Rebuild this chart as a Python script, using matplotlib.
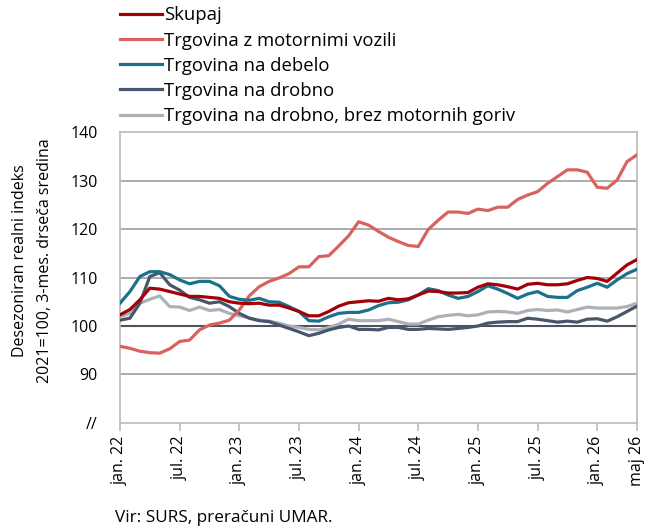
import matplotlib
matplotlib.use("Agg")
import matplotlib.pyplot as plt
import numpy as np

plt.rcParams['font.family'] = ['Open Sans', 'DejaVu Sans']

# mesečni podatki, jan. 2022 - maj 2026
skupaj = [102.3, 103.4, 105.4, 107.8, 107.6, 107.1, 106.6, 106.1, 106.1, 105.9,
          105.7, 105.0, 104.7, 104.6, 104.7, 104.3, 104.3, 103.7, 103.0, 102.1,
          102.1, 103.0, 104.1, 104.8, 105.0, 105.2, 105.1, 105.7, 105.4, 105.6,
          106.4, 107.2, 107.1, 106.8, 106.8, 106.9, 108.0, 108.7, 108.5, 108.1,
          107.6, 108.6, 108.8, 108.5, 108.5, 108.7, 109.4, 110.0, 109.8, 109.2,
          110.9, 112.6, 113.7]
motorna = [95.8, 95.4, 94.8, 94.5, 94.4, 95.3, 96.8, 97.1, 99.2, 100.2,
           100.6, 101.2, 103.3, 106.2, 108.1, 109.2, 109.9, 110.8, 112.2, 112.2,
           114.3, 114.5, 116.5, 118.6, 121.5, 120.8, 119.5, 118.3, 117.4, 116.6,
           116.4, 119.9, 121.8, 123.5, 123.5, 123.2, 124.1, 123.8, 124.5, 124.5,
           126.1, 127.0, 127.7, 129.4, 130.8, 132.2, 132.2, 131.7, 128.6, 128.4,
           130.1, 133.9, 135.3]
debelo = [104.7, 107.1, 110.2, 111.2, 111.2, 110.6, 109.5, 108.7, 109.2, 109.2,
          108.3, 106.1, 105.5, 105.3, 105.7, 105.0, 104.9, 104.0, 103.0, 101.1,
          101.0, 101.9, 102.6, 102.8, 102.8, 103.3, 104.2, 104.8, 104.9, 105.4,
          106.4, 107.7, 107.3, 106.4, 105.7, 106.1, 107.1, 108.3, 107.6, 106.7,
          105.7, 106.6, 107.1, 106.1, 105.9, 105.9, 107.3, 108.0, 108.8, 108.0,
          109.5, 110.8, 111.7]
drobno = [101.2, 101.6, 104.7, 110.2, 111.0, 108.5, 107.4, 105.9, 105.4, 104.7,
          105.0, 104.0, 102.6, 101.6, 101.1, 100.9, 100.2, 99.5, 98.8, 98.0,
          98.5, 99.2, 99.7, 100.0, 99.3, 99.3, 99.2, 99.7, 99.7, 99.3,
          99.3, 99.5, 99.4, 99.3, 99.5, 99.7, 100.0, 100.6, 100.8, 100.9,
          100.9, 101.6, 101.4, 101.1, 100.8, 101.0, 100.8, 101.4, 101.5, 101.0,
          101.9, 103.0, 104.1]
brez_goriv = [101.9, 102.6, 104.7, 105.5, 106.2, 104.0, 103.9, 103.2, 103.9, 103.2,
              103.4, 102.6, 102.1, 101.7, 101.2, 101.0, 100.6, 100.0, 99.7, 99.3,
              99.2, 99.7, 100.4, 101.4, 101.1, 101.1, 101.1, 101.4, 100.9, 100.4,
              100.4, 101.2, 101.9, 102.2, 102.4, 102.1, 102.3, 102.9, 103.0, 102.9,
              102.6, 103.2, 103.4, 103.2, 103.3, 102.9, 103.4, 103.9, 103.7, 103.7,
              103.7, 104.0, 104.7]

tick_pos = [0, 6, 12, 18, 24, 30, 36, 42, 48, 52]
tick_lab = ['jan. 22', 'jul. 22', 'jan. 23', 'jul. 23', 'jan. 24', 'jul. 24',
            'jan. 25', 'jul. 25', 'jan. 26', 'maj 26']
y_ticks = [80, 90, 100, 110, 120, 130, 140]
y_lab = ['//', '90', '100', '110', '120', '130', '140']

x = np.arange(len(skupaj))

fig = plt.figure(figsize=(6.5, 5.31), dpi=100)
ax = fig.add_axes([0.1846, 0.2034, 0.7954, 0.548])

for v in [90, 110, 120, 130]:
    ax.axhline(v, color='#A6A6A6', lw=1.3, zorder=1)
ax.axhline(100, color='#4F5360', lw=1.5, zorder=1)

ax.plot(x, skupaj, color='#A50008', lw=2.3, label='Skupaj', zorder=5)
ax.plot(x, motorna, color='#D9625F', lw=2.3, label='Trgovina z motornimi vozili', zorder=4)
ax.plot(x, debelo, color='#1A7189', lw=2.3, label='Trgovina na debelo', zorder=4)
ax.plot(x, drobno, color='#47566C', lw=2.3, label='Trgovina na drobno', zorder=3)
ax.plot(x, brez_goriv, color='#ADB1B7', lw=2.3, label='Trgovina na drobno, brez motornih goriv', zorder=2)

ax.set_xlim(0, 52)
ax.set_ylim(80, 140)
ax.set_yticks(y_ticks)
ax.set_yticklabels(y_lab)
ax.set_xticks(tick_pos)
ax.set_xticklabels(tick_lab, rotation=90)
ax.tick_params(axis='y', length=0, pad=16, labelsize=11.5)
ax.tick_params(axis='x', length=6, width=1.3, color='#BFBFBF', pad=3, labelsize=11.5)
for s in ax.spines.values():
    s.set_color('#BFBFBF')
    s.set_linewidth(1.3)

leg = fig.legend(loc='upper left', bbox_to_anchor=(0.174, 1.002), frameon=False,
                 handlelength=2.25, handletextpad=0.1, labelspacing=0.39,
                 fontsize=13.3, borderaxespad=0)
for line in leg.get_lines():
    line.set_linewidth(2.3)

fig.text(0.031, 0.51, 'Desezoniran realni indeks', rotation=90, ha='center', va='center', fontsize=11.5)
fig.text(0.069, 0.51, '2021=100, 3-mes. drseča sredina', rotation=90, ha='center', va='center', fontsize=11.5)
fig.text(0.177, 0.025, 'Vir: SURS, preračuni UMAR.', ha='left', va='center', fontsize=12.3)

fig.savefig('out.png', dpi=100)
